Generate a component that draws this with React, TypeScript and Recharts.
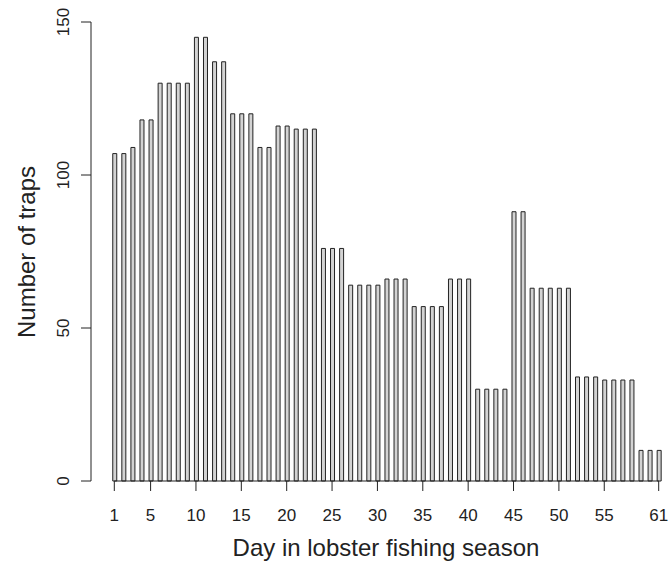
import { BarChart, Bar, XAxis, YAxis, ReferenceLine } from 'recharts';

// days 1..61 of the season
const days = Array.from({ length: 61 }, (_, i) => i + 1);

const traps = [
  107, 107, 109, 118, 118, 130, 130, 130, 130, 145,
  145, 137, 137, 120, 120, 120, 109, 109, 116, 116,
  115, 115, 115, 76, 76, 76, 64, 64, 64, 64,
  66, 66, 66, 57, 57, 57, 57, 66, 66, 66,
  30, 30, 30, 30, 88, 88, 63, 63, 63, 63,
  63, 34, 34, 34, 33, 33, 33, 33, 10, 10,
  10,
];

const xTicks = [1, 5, 10, 15, 20, 25, 30, 35, 40, 45, 50, 55, 61];
const yTicks = [0, 50, 100, 150];

const data = days.map((day, i) => ({ day, traps: traps[i] }));

const FONT = '"Liberation Sans", Arial, Helvetica, sans-serif';
const INK = '#222';

const XTick = (props: any) => {
  const { x, payload } = props;
  return (
    <text x={x} y={515} textAnchor="middle" dominantBaseline="central" fontSize={17} fill={INK} fontFamily={FONT}>
      {payload.value}
    </text>
  );
};

const YTick = (props: any) => {
  const { y, payload } = props;
  return (
    <text
      x={63}
      y={y}
      textAnchor="middle"
      dominantBaseline="central"
      fontSize={17}
      fill={INK}
      fontFamily={FONT}
      transform={`rotate(-90, 63, ${y})`}
    >
      {payload.value}
    </text>
  );
};

export default function App() {
  return (
    <div style={{ position: 'absolute', left: 0, top: 0, background: '#fff' }}>
      <BarChart
        width={670}
        height={565}
        data={data}
        margin={{ top: 22, right: 5, left: 0, bottom: 0 }}
      >
        <XAxis
          dataKey="day"
          type="number"
          domain={[-1.568, 61.694]}
          allowDataOverflow
          ticks={xTicks}
          interval={0}
          axisLine={false}
          tickLine={{ stroke: INK }}
          tickSize={10}
          tick={<XTick />}
          height={84}
          label={{
            content: () => (
              <text x={386} y={547} textAnchor="middle" dominantBaseline="central" fontSize={24} fill={INK} fontFamily={FONT}>
                Day in lobster fishing season
              </text>
            ),
          }}
        />
        <YAxis
          type="number"
          domain={[0, 150]}
          ticks={yTicks}
          interval={0}
          width={91}
          axisLine={{ stroke: INK }}
          tickLine={{ stroke: INK }}
          tickSize={10}
          tick={<YTick />}
          label={{
            content: () => (
              <text
                x={26}
                y={252}
                textAnchor="middle"
                dominantBaseline="central"
                fontSize={24}
                fill={INK}
                fontFamily={FONT}
                transform="rotate(-90, 26, 252)"
              >
                Number of traps
              </text>
            ),
          }}
        />
        <ReferenceLine
          segment={[{ x: 1, y: 0 }, { x: 61, y: 0 }]}
          stroke={INK}
          ifOverflow="visible"
        />
        <Bar
          dataKey="traps"
          barSize={4}
          fill="#d3d3d3"
          stroke={INK}
          strokeWidth={1}
          isAnimationActive={false}
        />
      </BarChart>
    </div>
  );
}
